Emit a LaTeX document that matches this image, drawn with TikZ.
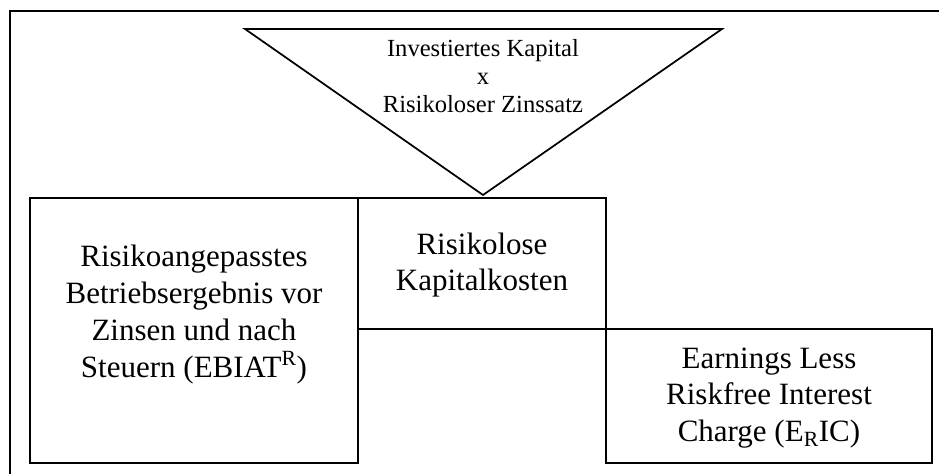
\documentclass[tikz,border=0pt]{standalone}
\usepackage{fontspec}
\setmainfont{Liberation Serif}
\usetikzlibrary{fit}
\begin{document}
\begin{tikzpicture}[x=0.75pt,y=-0.75pt,
  line/.style={line width=1.3pt,line join=miter},
  boxnode/.style={draw,line width=1.3pt,inner sep=0pt},
  trtext/.style={align=center,inner sep=0pt,font=\fontsize{18.45pt}{21pt}\selectfont},
  bxtext/.style={align=center,inner sep=0pt,font=\fontsize{23.25pt}{27.6pt}\selectfont}]
\useasboundingbox (0,0) rectangle (939,474);
% outer frame (cropped at right and bottom)
\coordinate (fb) at (10,474);
\coordinate (ftl) at (10,11);
\coordinate (fr) at (939,11);
\draw[line] (fb) -- (ftl) -- (fr);
% triangle
\coordinate (t1) at (245,29);
\coordinate (t2) at (722,29);
\coordinate (t3) at (483,195);
\draw[line] (t1) -- (t2) -- (t3) -- cycle;
\node[trtext] (tt) at (483,76.5) {Investiertes Kapital\\x\\Risikoloser Zinssatz};
% boxes
\node[boxnode,fit={(30,198) (358,463)}] (L) {};
\node[boxnode,fit={(358,198) (606,329)}] (M) {};
\node[boxnode,fit={(606,329) (932,463)}] (R) {};
\node[bxtext] (Lt) at (194,314.5) {Risikoangepasstes\\Betriebsergebnis vor\\Zinsen und nach\\Steuern (EBIAT\textsuperscript{R})};
\node[bxtext] (Mt) at (482,265) {Risikolose\\Kapitalkosten};
\node[bxtext] (Rt) at (769,398) {Earnings Less\\Riskfree Interest\\Charge (E\textsubscript{R}IC)};
\end{tikzpicture}
\end{document}
